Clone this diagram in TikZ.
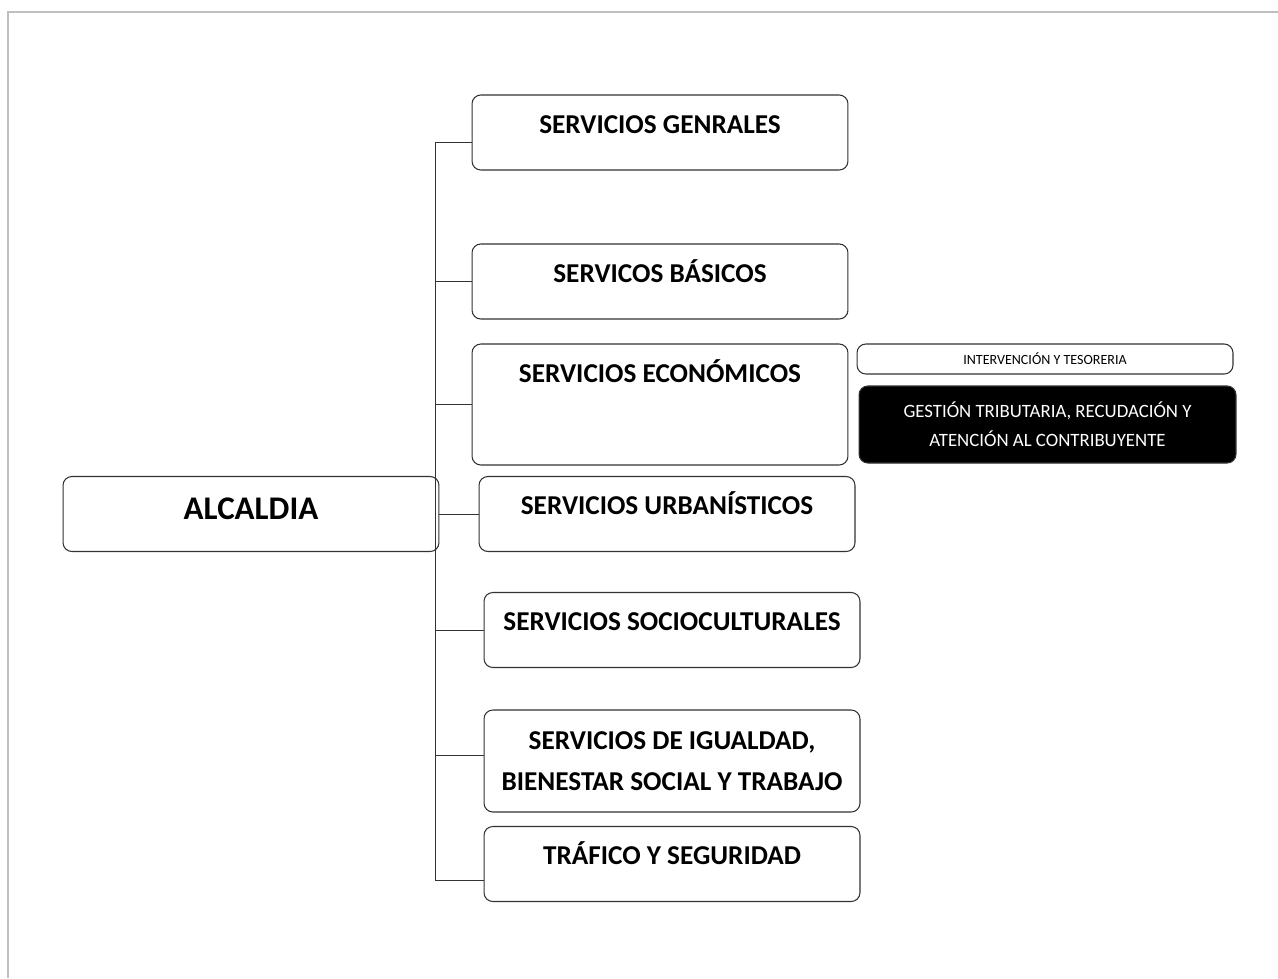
\documentclass[tikz,border=0pt]{standalone}
\usepackage{fontspec}
\setmainfont{Carlito}
\usepackage{tikz}

\tikzset{
  unit/.style={draw=black!80,line width=0.6pt,rounded corners=5pt,minimum width=7.52cm,minimum height=1.5cm,inner sep=0pt},
  toptext/.style={anchor=base,yshift=-0.78cm,font=\bfseries\fontsize{15.5}{23}\selectfont},
}

\begin{document}
\begin{tikzpicture}[x=0.02cm,y=-0.02cm,line width=0.5pt]
        \useasboundingbox (0,0) rectangle (1278,978);
        \draw[black!25,line width=0.8pt] (8,978) -- (8,12) -- (1278,12);

        \node[unit,label={[toptext,yshift=-0.1cm,font=\bfseries\fontsize{18.8}{22}\selectfont]north:ALCALDIA}] (alc) at (251,514) {};

        \node[unit,label={[toptext]north:SERVICIOS GENRALES}] (gen) at (660,132.5) {};
        \node[unit,label={[toptext]north:SERVICOS BÁSICOS}] (bas) at (660,281.5) {};
        \node[unit,minimum height=2.42cm,label={[toptext]north:SERVICIOS ECONÓMICOS}] (eco) at (660,404.5) {};
        \node[unit,label={[toptext]north:SERVICIOS URBANÍSTICOS}] (urb) at (667,514) {};
        \node[unit,label={[toptext]north:SERVICIOS SOCIOCULTURALES}] (soc) at (672,630) {};
        \node[unit,minimum height=2.04cm,align=center,font=\bfseries\fontsize{15.5}{23.2}\selectfont] (igu) at (672,761) {SERVICIOS DE IGUALDAD,\\BIENESTAR SOCIAL Y TRABAJO};
        \node[unit,label={[toptext]north:TRÁFICO Y SEGURIDAD}] (tra) at (672,864) {};

        \node[unit,minimum height=0.6cm,font=\fontsize{8}{9}\selectfont] (int) at (1045,359) {INTERVENCIÓN Y TESORERIA};
        \node[unit,minimum width=7.54cm,minimum height=1.54cm,fill=black,text=white,align=center,font=\fontsize{10.7}{16.4}\selectfont] (ges) at (1047.5,424.5) {GESTIÓN TRIBUTARIA, RECUDACIÓN Y\\ATENCIÓN AL CONTRIBUYENTE};

        \coordinate (ttop) at (435,142);
        \coordinate (tbot) at (435,880);
        \draw[black!80] (gen.west |- ttop) -- (ttop) -- (tbot) -- (tra.west |- tbot);
        \draw[black!80] (ttop |- bas.west) -- (bas.west);
        \draw[black!80] (ttop |- eco.west) -- (eco.west);
        \draw[black!80] (alc.east) -- (urb.west);
        \draw[black!80] (ttop |- soc.west) -- (soc.west);
        \draw[black!80] ([yshift=0.12cm]igu.west) -- +(-49,0);
      \end{tikzpicture}
\end{document}
